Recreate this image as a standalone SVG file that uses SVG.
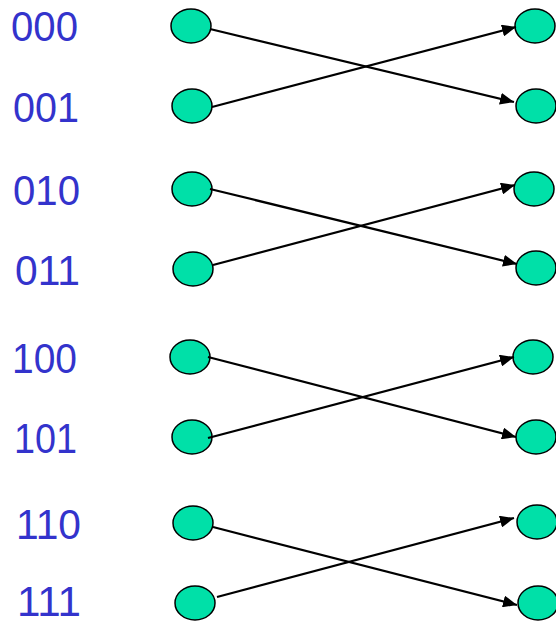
<svg xmlns="http://www.w3.org/2000/svg" width="556" height="623" viewBox="0 0 556 623">
<style>
.n{fill:#00e0a8;stroke:#000;stroke-width:1.5}
.l{font-family:"Liberation Sans",Arial,sans-serif;font-size:42px;fill:#3333cc}
.c{stroke:#000;stroke-width:2.2;fill:none;marker-end:url(#ah)}
</style>
<defs>
<marker id="ah" markerUnits="userSpaceOnUse" markerWidth="14" markerHeight="12" refX="14" refY="6" orient="auto">
<path d="M0,0 L14,6 L0,12 Z" fill="#000"/>
</marker>
</defs>
<g id="labels">
<text class="l" x="11" y="41" textLength="67" lengthAdjust="spacingAndGlyphs">000</text>
<text class="l" x="13" y="122" textLength="66" lengthAdjust="spacingAndGlyphs">001</text>
<text class="l" x="13" y="205" textLength="67" lengthAdjust="spacingAndGlyphs">010</text>
<text class="l" x="15" y="285" textLength="65" lengthAdjust="spacingAndGlyphs">011</text>
<text class="l" x="12" y="373" textLength="65" lengthAdjust="spacingAndGlyphs">100</text>
<text class="l" x="14" y="453" textLength="63" lengthAdjust="spacingAndGlyphs">101</text>
<text class="l" x="16" y="539" textLength="65" lengthAdjust="spacingAndGlyphs">110</text>
<text class="l" x="17" y="616" textLength="64" lengthAdjust="spacingAndGlyphs">111</text>
</g>
<g id="left-000"><ellipse class="n" cx="191" cy="26" rx="20" ry="17"/></g>
<g id="left-001"><ellipse class="n" cx="192" cy="106" rx="20" ry="17"/></g>
<g id="left-010"><ellipse class="n" cx="192" cy="189" rx="20" ry="17"/></g>
<g id="left-011"><ellipse class="n" cx="193" cy="269" rx="20" ry="17"/></g>
<g id="left-100"><ellipse class="n" cx="190" cy="357" rx="20" ry="17"/></g>
<g id="left-101"><ellipse class="n" cx="192" cy="437" rx="20" ry="17"/></g>
<g id="left-110"><ellipse class="n" cx="193" cy="523" rx="20" ry="17"/></g>
<g id="left-111"><ellipse class="n" cx="195" cy="603" rx="20" ry="17"/></g>
<g id="right-000"><ellipse class="n" cx="535" cy="26" rx="20" ry="17"/></g>
<g id="right-001"><ellipse class="n" cx="536" cy="106" rx="20" ry="17"/></g>
<g id="right-010"><ellipse class="n" cx="534" cy="189" rx="20" ry="17"/></g>
<g id="right-011"><ellipse class="n" cx="536" cy="268" rx="20" ry="17"/></g>
<g id="right-100"><ellipse class="n" cx="533" cy="357" rx="20" ry="17"/></g>
<g id="right-101"><ellipse class="n" cx="536" cy="437" rx="20" ry="17"/></g>
<g id="right-110"><ellipse class="n" cx="537" cy="522" rx="20" ry="17"/></g>
<g id="right-111"><ellipse class="n" cx="538" cy="603" rx="20" ry="17"/></g>
<g id="connectors">
<line class="c" x1="210" y1="29" x2="514" y2="102"/>
<line class="c" x1="212" y1="107" x2="516" y2="27"/>
<line class="c" x1="210" y1="189" x2="517" y2="264"/>
<line class="c" x1="213" y1="265" x2="515" y2="185"/>
<line class="c" x1="208" y1="357" x2="516" y2="437"/>
<line class="c" x1="208" y1="438" x2="514" y2="357"/>
<line class="c" x1="213" y1="527" x2="517" y2="605"/>
<line class="c" x1="217" y1="597" x2="514" y2="518"/>
</g>
</svg>
